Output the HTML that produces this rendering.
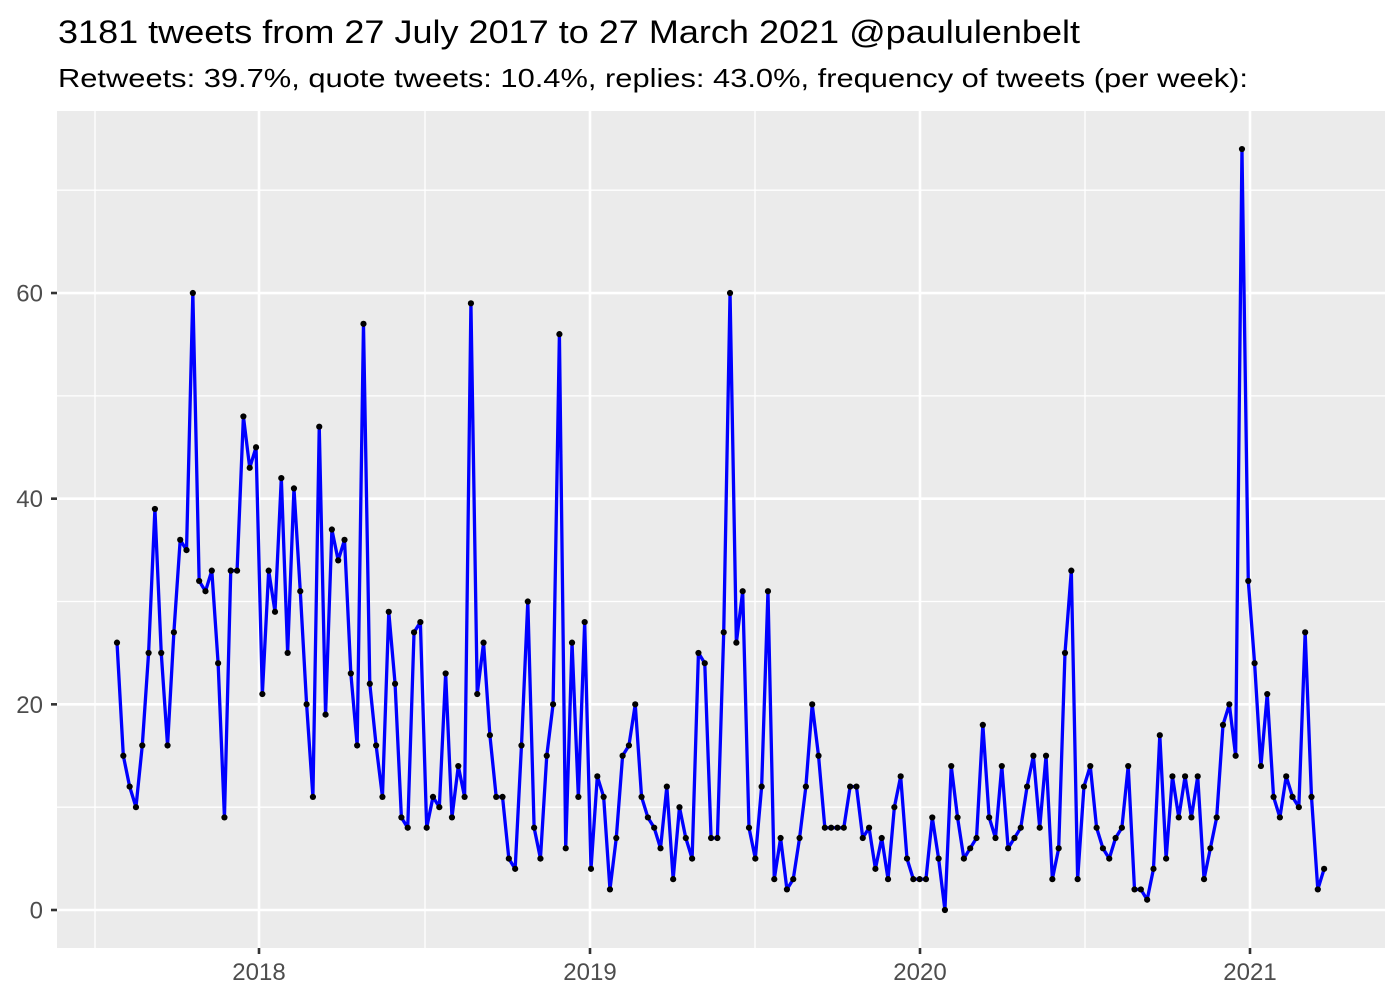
<!DOCTYPE html>
<html><head><meta charset="utf-8"><style>html,body{margin:0;padding:0;background:#fff}svg{display:block}</style></head>
<body>
<svg id="s" width="1400" height="1000" xmlns="http://www.w3.org/2000/svg" font-family="Liberation Sans, sans-serif">
<rect x="0" y="0" width="1400" height="1000" fill="#fff"/>
<text x="58" y="43" font-size="32" fill="#000" textLength="1022" lengthAdjust="spacingAndGlyphs">3181 tweets from 27 July 2017 to 27 March 2021 @paululenbelt</text>
<text x="58" y="87" font-size="26" fill="#000" textLength="1190" lengthAdjust="spacingAndGlyphs">Retweets: 39.7%, quote tweets: 10.4%, replies: 43.0%, frequency of tweets (per week):</text>
<rect x="57" y="111" width="1328" height="837" fill="#ebebeb"/>
<g id="grid"></g>
<g id="data"></g>
</svg>
<script>
var d=[26,15,12,10,16,25,39,25,16,27,36,35,60,32,31,33,24,9,33,33,48,43,45,21,33,29,42,25,41,31,20,11,47,19,37,34,36,23,16,57,22,16,11,29,22,9,8,27,28,8,11,10,23,9,14,11,59,21,26,17,11,11,5,4,16,30,8,5,15,20,56,6,26,11,28,4,13,11,2,7,15,16,20,11,9,8,6,12,3,10,7,5,25,24,7,7,27,60,26,31,8,5,12,31,3,7,2,3,7,12,20,15,8,8,8,8,12,12,7,8,4,7,3,10,13,5,3,3,3,9,5,0,14,9,5,6,7,18,9,7,14,6,7,8,12,15,8,15,3,6,25,33,3,12,14,8,6,5,7,8,14,2,2,1,4,17,5,13,9,13,9,13,3,6,9,18,20,15,74,32,24,14,21,11,9,13,11,10,27,11,2,4];
function Y(v){return 910-v*10.283;}
var g='';
[10,30,50,70].forEach(function(v){g+='<line x1="57" x2="1385" y1="'+Y(v)+'" y2="'+Y(v)+'" stroke="#fff" stroke-width="1.3"/>';});
[95,425,755,1085].forEach(function(x){g+='<line x1="'+x+'" x2="'+x+'" y1="111" y2="948" stroke="#fff" stroke-width="1.3"/>';});
[0,20,40,60].forEach(function(v){var y=Y(v);g+='<line x1="57" x2="1385" y1="'+y+'" y2="'+y+'" stroke="#fff" stroke-width="2.6"/>';
g+='<line x1="51" x2="57" y1="'+y+'" y2="'+y+'" stroke="#333" stroke-width="2.6"/>';
g+='<text x="43" y="'+(y+8.5)+'" font-size="24" fill="#4d4d4d" text-anchor="end">'+v+'</text>';});
[[259,'2018'],[590,'2019'],[920,'2020'],[1250,'2021']].forEach(function(t){var x=t[0];g+='<line x1="'+x+'" x2="'+x+'" y1="111" y2="948" stroke="#fff" stroke-width="2.6"/>';
g+='<line x1="'+x+'" x2="'+x+'" y1="948" y2="954" stroke="#333" stroke-width="2.6"/>';
g+='<text x="'+x+'" y="980" font-size="24" fill="#4d4d4d" text-anchor="middle">'+t[1]+'</text>';});
document.getElementById('grid').innerHTML=g;
var p='',c='';
d.forEach(function(v,i){var x=117+i*6.32,y=Y(v);p+=(i?'L':'M')+x.toFixed(2)+' '+y.toFixed(2);c+='<circle cx="'+x.toFixed(2)+'" cy="'+y.toFixed(2)+'" r="3.1" fill="#000"/>';});
document.getElementById('data').innerHTML='<path d="'+p+'" fill="none" stroke="#0000ff" stroke-width="3.3" stroke-linejoin="round"/>'+c;
</script>
</body></html>
